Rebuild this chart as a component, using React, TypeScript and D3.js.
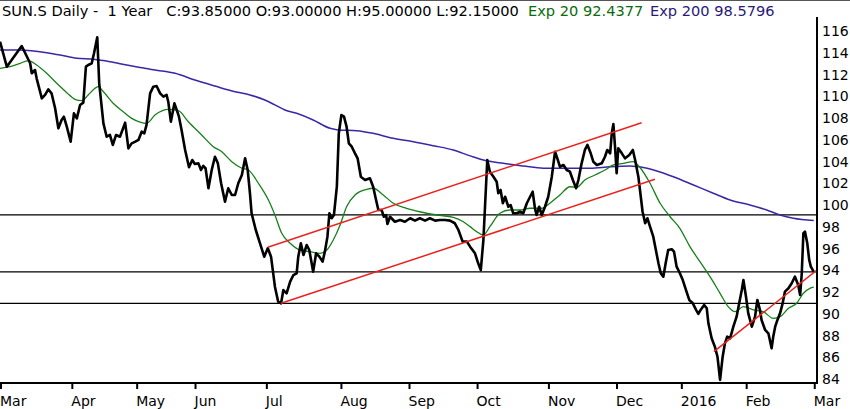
import * as d3 from "d3";

// trading-day index (0 = 1 Mar 2015) and price
const closes: [number, number][] = [
  [0, 115.02], [2.1, 112.72], [6.7, 114.62], [9.3, 113.03], [9.8, 112.11], [10.8, 112.41],
  [11.3, 111.65], [12.9, 109.81], [13.9, 110.12], [14.9, 110.64], [15.9, 110.27], [17.0, 108.89],
  [18.0, 107.05], [19.0, 107.82], [19.7, 108.12], [20.6, 107.2], [21.8, 105.82], [22.8, 108.43],
  [23.7, 107.97], [24.7, 109.2], [25.7, 109.41], [26.5, 112.72], [27.2, 112.87], [28.3, 113.03],
  [29.0, 113.95], [30.0, 115.42], [30.6, 111.19], [31.9, 107.51], [32.9, 106.28], [33.9, 106.44],
  [34.8, 105.52], [35.8, 106.44], [37.0, 106.28], [38.6, 107.57], [39.6, 105.21], [40.6, 105.67],
  [41.6, 105.8], [42.7, 105.98], [43.7, 106.74], [44.5, 106.59], [45.2, 107.36], [46.3, 110.27],
  [47.3, 110.88], [48.3, 110.94], [49.4, 110.27], [50.4, 109.96], [51.4, 110.12], [51.9, 109.5],
  [52.7, 107.66], [53.8, 109.35], [54.5, 108.74], [55.2, 108.12], [56.0, 106.9], [57.1, 105.06],
  [58.3, 103.47], [59.3, 104.14], [60.1, 103.77], [61.2, 103.83], [62.0, 103.22], [62.7, 103.59],
  [63.4, 103.38], [64.3, 101.54], [65.3, 103.22], [66.3, 104.44], [67.2, 103.83], [68.2, 102.0],
  [69.4, 100.3], [70.4, 101.54], [71.5, 100.92], [72.5, 100.92], [73.5, 102.0], [74.6, 102.76],
  [75.6, 104.29], [76.4, 103.22], [77.1, 101.08], [77.6, 99.24], [78.9, 97.7], [80.2, 96.48],
  [81.5, 95.25], [82.6, 96.02], [83.6, 95.25], [84.8, 92.49], [85.8, 91.11], [86.7, 90.96],
  [87.4, 92.18], [88.4, 91.88], [89.5, 92.95], [90.5, 93.56], [91.5, 93.72], [92.0, 95.25],
  [92.8, 96.48], [93.6, 95.4], [94.6, 96.32], [95.4, 95.86], [96.6, 93.87], [97.5, 95.56],
  [98.5, 95.25], [99.5, 94.79], [100.2, 95.71], [101.0, 97.09], [101.6, 99.24], [102.3, 98.78],
  [103.0, 99.08], [103.9, 101.68], [104.5, 106.59], [105.3, 108.28], [106.1, 108.12], [106.9, 107.2],
  [107.6, 105.67], [108.5, 105.36], [109.5, 104.75], [110.3, 104.29], [111.3, 102.6], [112.6, 102.3],
  [114.1, 102.46], [115.1, 101.68], [116.0, 100.46], [116.7, 99.54], [117.7, 99.54], [118.4, 98.92],
  [119.1, 99.08], [119.5, 98.25], [120.3, 98.92], [121.8, 98.46], [123.4, 98.62], [124.9, 98.46],
  [126.5, 98.78], [128.0, 98.56], [129.5, 98.78], [131.1, 98.56], [132.6, 98.78], [134.2, 98.56],
  [135.7, 98.62], [137.3, 98.62], [138.8, 98.56], [140.3, 98.32], [141.4, 97.7], [142.7, 96.63],
  [144.0, 96.63], [145.0, 96.17], [146.5, 95.56], [147.5, 94.64], [148.3, 94.02], [149.1, 96.78],
  [149.6, 99.84], [150.3, 104.14], [151.1, 103.06], [152.2, 102.6], [153.2, 102.14], [153.7, 101.08],
  [154.4, 101.38], [155.1, 100.16], [155.8, 100.76], [156.8, 99.84], [157.5, 100.0], [158.3, 99.24],
  [159.4, 99.24], [160.4, 99.38], [161.4, 99.24], [162.5, 100.16], [163.5, 100.76], [164.3, 101.22],
  [165.0, 99.7], [165.5, 99.08], [166.3, 99.84], [167.1, 99.08], [168.1, 99.84], [169.1, 100.76],
  [170.2, 102.6], [171.2, 104.9], [171.9, 104.29], [172.7, 103.52], [173.8, 103.68], [174.8, 103.22],
  [175.8, 103.06], [176.7, 102.3], [177.7, 101.54], [178.4, 102.3], [179.4, 103.83], [180.4, 105.06],
  [181.2, 105.52], [182.2, 104.75], [183.0, 103.98], [184.1, 103.68], [185.6, 103.83], [186.6, 104.44],
  [187.3, 105.06], [188.2, 104.75], [188.7, 106.59], [189.2, 107.45], [189.7, 105.36], [190.2, 102.92],
  [190.7, 105.21], [191.8, 104.75], [192.8, 104.29], [194.1, 104.6], [195.2, 105.06], [195.9, 104.14],
  [196.9, 102.6], [197.4, 101.38], [198.2, 99.38], [199.0, 98.32], [199.7, 98.78], [200.5, 98.01],
  [201.5, 97.09], [202.3, 95.86], [203.1, 94.64], [203.8, 93.72], [204.6, 93.41], [205.4, 94.79],
  [206.1, 95.86], [207.2, 95.93], [207.9, 95.71], [208.7, 94.33], [209.7, 93.72], [210.6, 93.1],
  [211.6, 92.18], [212.6, 91.27], [213.7, 90.96], [214.7, 90.35], [215.4, 89.98], [216.1, 90.35],
  [217.2, 90.81], [218.0, 90.5], [218.5, 89.12], [219.5, 87.74], [220.5, 86.97], [221.3, 86.05],
  [222.1, 83.91], [222.9, 86.05], [223.6, 87.28], [224.3, 87.89], [225.2, 87.74], [226.2, 88.81],
  [227.2, 89.73], [228.0, 90.96], [228.8, 92.18], [229.3, 93.1], [230.1, 91.57], [230.8, 90.04],
  [231.9, 88.81], [232.9, 89.73], [233.6, 91.27], [234.4, 90.35], [234.9, 89.43], [236.0, 88.51],
  [237.0, 88.2], [238.0, 86.82], [238.5, 87.89], [239.1, 88.81], [239.8, 89.43], [240.6, 90.04],
  [241.4, 90.96], [242.1, 92.03], [243.2, 92.34], [244.2, 92.8], [245.2, 93.41], [246.2, 92.64],
  [246.8, 91.72], [247.3, 93.72], [247.8, 97.4], [248.3, 97.55], [249.0, 96.48], [249.6, 94.94],
  [250.1, 94.33], [251, 93.85],
];

const ema20: [number, number][] = [
  [0, 112.57], [3.1, 112.72], [6.2, 113.03], [8.7, 113.27], [11.3, 112.87], [14.4, 112.11],
  [17.5, 111.19], [20.6, 110.33], [23.1, 109.72], [25.2, 109.59], [27.2, 110.12], [29.3, 110.73],
  [30.3, 110.88], [31.9, 110.42], [34.9, 109.35], [38.0, 108.58], [40.6, 107.97], [43.2, 107.63],
  [45.2, 107.51], [47.8, 108.28], [51.9, 108.8], [55.0, 108.67], [58.1, 107.66], [62.2, 106.44],
  [65.8, 105.36], [68.4, 104.9], [71.5, 103.98], [74.6, 103.38], [76.6, 103.22], [79.7, 102.0],
  [82.8, 100.46], [84.8, 99.08], [86.9, 97.4], [89.5, 96.48], [92.5, 95.86], [95.6, 95.71],
  [98.7, 95.56], [100.8, 95.86], [102.8, 96.78], [104.9, 98.16], [106.9, 99.84], [109.5, 100.92],
  [113.1, 101.44], [115.1, 101.54], [118.2, 100.92], [121.3, 100.16], [125.4, 99.7], [129.5, 99.38],
  [134.7, 99.08], [139.8, 98.87], [142.9, 98.46], [145.0, 98.01], [147.0, 97.55], [149.1, 97.24],
  [151.1, 98.01], [154.2, 99.24], [157.3, 99.54], [160.4, 99.54], [163.5, 99.7], [167.1, 99.7],
  [169.6, 100.16], [172.7, 100.92], [175.8, 101.68], [177.9, 101.63], [180.4, 102.3], [183.5, 102.76],
  [186.6, 103.22], [189.2, 103.68], [192.3, 103.83], [195.3, 103.98], [197.4, 103.45], [200.5, 102.0],
  [203.6, 100.16], [206.7, 98.92], [209.7, 97.86], [212.8, 96.17], [215.9, 94.79], [219.0, 93.41],
  [222.1, 91.88], [224.6, 90.65], [226.7, 90.19], [229.3, 90.65], [232.4, 90.35], [235.4, 90.19],
  [238.5, 89.58], [240.6, 89.73], [243.2, 90.5], [245.7, 90.96], [247.8, 91.88], [249.8, 92.34],
  [251, 92.44],
];

const ema200: [number, number][] = [
  [0, 114.25], [6.2, 114.25], [12.3, 114.1], [18.5, 113.79], [23.7, 113.49], [28.8, 113.4],
  [33.9, 113.18], [39.1, 112.87], [43.2, 112.64], [47.8, 112.41], [54.0, 112.11], [60.1, 111.49],
  [66.3, 110.94], [72.5, 110.42], [77.1, 110.12], [81.7, 109.66], [84.8, 109.2], [87.9, 108.74],
  [91.5, 108.43], [96.6, 107.82], [101.8, 107.05], [104.3, 106.9], [110.0, 106.83], [115.1, 106.59],
  [121.3, 106.13], [127.5, 105.82], [133.7, 105.45], [139.8, 105.06], [145.0, 104.52], [149.1, 104.14],
  [155.2, 103.83], [161.4, 103.59], [167.6, 103.38], [175.8, 103.38], [182.0, 103.38], [188.2, 103.52],
  [194.3, 103.59], [198.4, 103.45], [202.6, 103.13], [207.7, 102.6], [213.9, 101.84], [220.0, 101.08],
  [225.2, 100.46], [231.3, 100.0], [236.5, 99.54], [240.6, 99.08], [244.7, 98.78], [251, 98.58],
];

// hand-drawn trend lines, start and end as [day, price]
const trendLines: [number, number][][] = [
  [[82.6, 96.11], [197.9, 107.57]],
  [[86.7, 90.96], [202.0, 102.36]],
  [[220.2, 86.51], [252, 94.02]],
];

const levels = [99.1, 93.85, 90.95];

const monthLabels = ["Mar", "Apr", "May", "Jun", "Jul", "Aug", "Sep", "Oct", "Nov", "Dec", "2016", "Feb", "Mar"];
const monthStart = [0, 22, 42, 60, 82, 105, 126, 147, 169, 190, 210, 230, 251];

const priceTicks = d3.range(84, 117, 2);

const W = 850;
const H = 409;
const plot = { left: 0, right: 817, top: 17, bottom: 383 };

export default function App() {
  const x = d3.scaleLinear().domain([0, 252]).range([plot.left, plot.right]);
  const y = d3.scaleLinear().domain([84, 116]).range([379, 31]);

  const straight = d3
    .line<[number, number]>()
    .x((d) => x(d[0]))
    .y((d) => y(d[1]));
  const smooth = d3
    .line<[number, number]>()
    .x((d) => x(d[0]))
    .y((d) => y(d[1]))
    .curve(d3.curveMonotoneX);

  return (
    <svg
      width={W}
      height={H}
      style={{ position: "fixed", left: 0, top: 0, background: "#fff" }}
      fontFamily="DejaVu Sans, Verdana, sans-serif"
    >
      <defs>
        <clipPath id="plotClip">
          <rect x={plot.left} y={plot.top} width={plot.right - plot.left} height={plot.bottom - plot.top} />
        </clipPath>
      </defs>
      <line x1={0} x2={W} y1={0.5} y2={0.5} stroke="#555" strokeWidth={1} />

      {/* title */}
      <g fontSize={14.6}>
        <text x={2} y={16} fill="#000" style={{ whiteSpace: "pre" }}>
          {"SUN.S Daily -  1 Year   C:93.85000 O:93.00000 H:95.00000 L:92.15000"}
        </text>
        <text x={528} y={16} fill="#0b6b0b">Exp 20 92.4377</text>
        <text x={650} y={16} fill="#2b1a78">Exp 200 98.5796</text>
      </g>

      <g clipPath="url(#plotClip)">
        {levels.map((v) => (
          <line key={v} x1={plot.left} x2={plot.right} y1={y(v)} y2={y(v)} stroke="#000" strokeWidth={1.2} />
        ))}
        <path d={smooth(ema200) ?? ""} fill="none" stroke="#3b27a6" strokeWidth={1.5} />
        <path d={smooth(ema20) ?? ""} fill="none" stroke="#17801a" strokeWidth={1.3} />
        <path d={straight(closes) ?? ""} fill="none" stroke="#000" strokeWidth={2.6} strokeLinejoin="round" />
        {trendLines.map((t, i) => (
          <path key={i} d={straight(t) ?? ""} stroke="#e8231e" strokeWidth={1.5} fill="none" />
        ))}
      </g>

      {/* axes */}
      <line x1={plot.right} x2={plot.right} y1={plot.top} y2={plot.bottom + 1} stroke="#000" strokeWidth={2} />
      <line x1={plot.left} x2={plot.right + 1} y1={plot.bottom} y2={plot.bottom} stroke="#000" strokeWidth={2} />
      {monthStart.map((m, i) => (
        <g key={i}>
          <line x1={x(m) + 1} x2={x(m) + 1} y1={plot.bottom} y2={plot.bottom + 6} stroke="#000" strokeWidth={2} />
          <text x={x(m)} y={406} fontSize={14} fill="#000">
            {monthLabels[i]}
          </text>
        </g>
      ))}
      {priceTicks.map((v) => (
        <text key={v} x={822} y={y(v) + 5} fontSize={14} fill="#000">
          {v}
        </text>
      ))}
    </svg>
  );
}
